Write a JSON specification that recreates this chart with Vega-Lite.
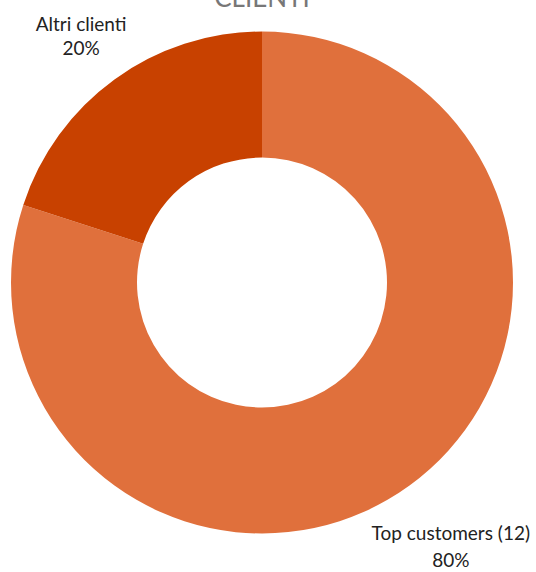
{
  "$schema": "https://vega.github.io/schema/vega-lite/v6.json",
  "autosize": "none",
  "width": 524,
  "height": 565,
  "padding": {"left": 0, "top": 0, "right": 12, "bottom": 7},
  "background": "white",
  "title": {"text": "CLIENTI", "anchor": "middle", "frame": "group", "offset": 0, "dy": 33, "baseline": "alphabetic", "font": "Lato", "fontSize": 26, "fontWeight": "normal", "color": "#777777"},
  "config": {"view": {"stroke": null}},
  "data": {"values": [
    {"category": "Top customers (12)", "value": 0.8, "order": 1},
    {"category": "Altri clienti", "value": 0.2, "order": 2}
  ]},
  "transform": [
    {"calculate": "[datum.category, format(datum.value, '.0%')]", "as": "label"}
  ],
  "encoding": {
    "theta": {"field": "value", "type": "quantitative", "stack": true},
    "order": {"field": "order", "type": "quantitative"}
  },
  "layer": [
    {
      "mark": {"type": "arc", "outerRadius": 251, "innerRadius": 125},
      "encoding": {
        "color": {"field": "category", "type": "nominal", "legend": null,
          "scale": {"domain": ["Top customers (12)", "Altri clienti"], "range": ["#E0703C", "#C84100"]}}
      }
    },
    {
      "mark": {"type": "text", "radius": 318, "dx": 6, "font": "Lato", "fontSize": 19, "color": "#222222", "align": "center", "baseline": "middle", "lineHeight": 24},
      "encoding": {
        "text": {"condition": {"test": "datum.category === 'Altri clienti'", "field": "label"}, "value": ""}
      }
    },
    {
      "mark": {"type": "text", "radius": 311, "dx": 6, "dy": 0, "font": "Lato", "fontSize": 19, "color": "#222222", "align": "center", "baseline": "middle", "lineHeight": 27},
      "encoding": {
        "text": {"condition": {"test": "datum.category === 'Top customers (12)'", "field": "label"}, "value": ""}
      }
    }
  ]
}
